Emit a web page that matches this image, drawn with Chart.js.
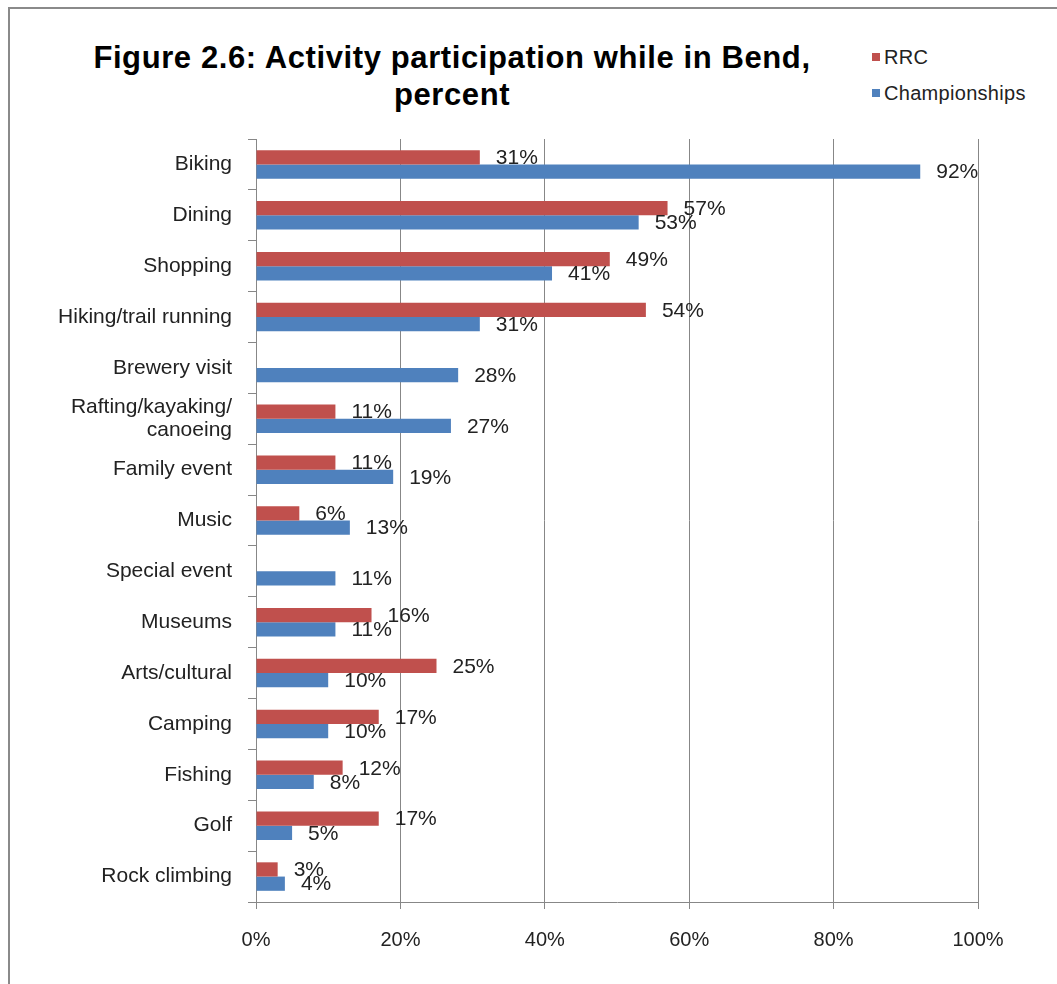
<!DOCTYPE html>
<html>
<head>
<meta charset="utf-8">
<script src="https://cdn.jsdelivr.net/npm/chart.js@4"></script>
<style>
  body { margin: 0; background: #fff; font-family: "Liberation Sans", Arial, sans-serif; }
  #frame { position: absolute; left: 8px; top: 7px; width: 1100px; height: 1100px; border: 2px solid #8a8a8a; box-sizing: border-box; }
  #title { position: absolute; left: 0; top: 39px; width: 904px; text-align: center; font-weight: bold; font-size: 31px; letter-spacing: 0.6px; line-height: 37px; color: #000; }
  #legend { position: absolute; left: 872px; top: 43px; font-size: 20px; letter-spacing: 0.3px; color: #222; }
  #legend div { height: 36px; line-height: 28px; white-space: nowrap; }
  #legend span { display: inline-block; width: 8px; height: 8px; margin-right: 4px; vertical-align: 3px; }
  #wrap { position: absolute; left: 0; top: 0; }
</style>
</head>
<body>
<div id="frame"></div>
<div id="title">Figure 2.6: Activity participation while in Bend,<br>percent</div>
<div id="legend">
  <div><span style="background:#C0504D"></span>RRC</div>
  <div><span style="background:#4F81BD"></span>Championships</div>
</div>
<div id="wrap"><canvas id="chart" width="1057" height="984"></canvas></div>
<script>
// Activities
const activities = [
  "Biking", "Dining", "Shopping", "Hiking/trail running", "Brewery visit",
  ["Rafting/kayaking/", "canoeing"], "Family event", "Music", "Special event",
  "Museums", "Arts/cultural", "Camping", "Fishing", "Golf", "Rock climbing"
];
const rrc = [31, 57, 49, 54, null, 11, 11, 6, null, 16, 25, 17, 12, 17, 3];
const championships = [92, 53, 41, 31, 28, 27, 19, 13, 11, 11, 10, 10, 8, 5, 4];
const xTicks = [0, 20, 40, 60, 80, 100];

const FONT = '"Liberation Sans", Arial, sans-serif';
const GRID = "#878787";

// value labels at the end of each bar
const barLabels = {
  id: "barLabels",
  afterDatasetsDraw(chart) {
    const ctx = chart.ctx;
    ctx.save();
    ctx.font = "21px " + FONT;
    ctx.fillStyle = "#222";
    ctx.textAlign = "left";
    ctx.textBaseline = "middle";
    chart.data.datasets.forEach((ds, i) => {
      chart.getDatasetMeta(i).data.forEach((bar, j) => {
        if (ds.data[j] == null) return;
        ctx.fillText(ds.data[j] + "%", bar.x + 16, bar.y + 1);
      });
    });
    ctx.restore();
  }
};

new Chart(document.getElementById("chart").getContext("2d"), {
  type: "bar",
  data: {
    labels: activities,
    datasets: [
      { label: "RRC", data: rrc, backgroundColor: "#C0504D" },
      { label: "Championships", data: championships, backgroundColor: "#4F81BD" }
    ]
  },
  options: {
    indexAxis: "y",
    responsive: false,
    animation: false,
    layout: { padding: { top: 139, right: 79, bottom: 22, left: 0 } },
    datasets: { bar: { categoryPercentage: 0.56, barPercentage: 1 } },
    plugins: { legend: { display: false }, title: { display: false }, tooltip: { enabled: false } },
    scales: {
      x: {
        min: 0,
        max: 100,
        afterFit(scale) { scale.height = 60; },
        afterBuildTicks(scale) { scale.ticks = xTicks.map(v => ({ value: v })); },
        grid: { color: GRID, tickLength: 7 },
        border: { color: GRID },
        ticks: { font: { family: FONT, size: 20 }, color: "#222", padding: 19, callback: v => v + "%" }
      },
      y: {
        afterFit(scale) { scale.width = 256; },
        grid: { offset: true, drawOnChartArea: false, color: GRID, tickLength: 8 },
        border: { color: GRID },
        ticks: { font: { family: FONT, size: 21, lineHeight: 1.1 }, color: "#222", padding: 16 }
      }
    }
  },
  plugins: [barLabels]
});
</script>
</body>
</html>
